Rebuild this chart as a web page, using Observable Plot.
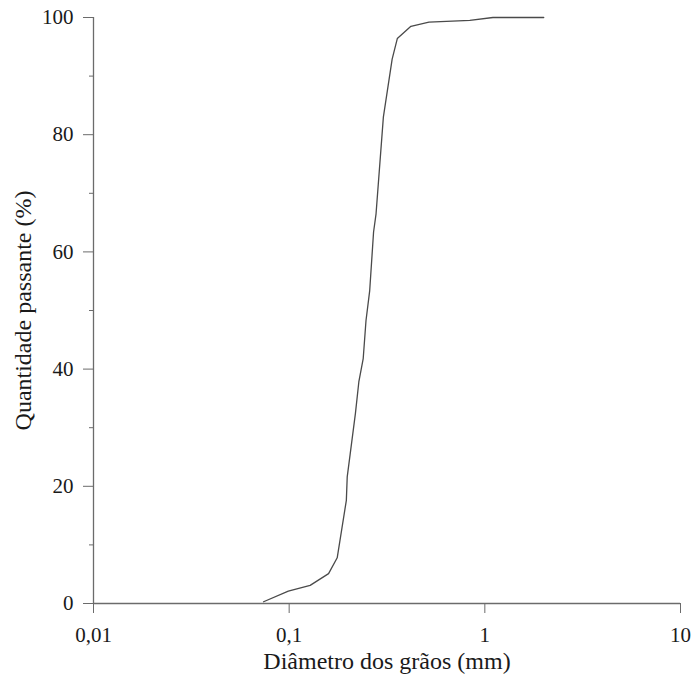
<!DOCTYPE html>
<html>
<head>
<meta charset="utf-8">
<script src="https://cdn.jsdelivr.net/npm/d3@7"></script>
<script src="https://cdn.jsdelivr.net/npm/@observablehq/plot@0.6"></script>
<style>
  html, body { margin: 0; padding: 0; background: #fff; }
  svg { display: block; }
</style>
</head>
<body>
<div id="chart"></div>
<script>
const diameter = [0.074, 0.099, 0.128, 0.159, 0.176, 0.196, 0.198, 0.205, 0.218, 0.227, 0.239, 0.247, 0.258, 0.270, 0.278, 0.303, 0.336, 0.357, 0.419, 0.518, 0.838, 1.10, 2.0];
const passing  = [0.3,   2.1,   3.1,   5.1,   7.8,   17.6,  21.6,  25.5,  32.4,  37.8,  41.8,  48.3,  53.4,  63.4,  66.5,  83.0,  92.9,  96.4,  98.5,  99.2,  99.5,  100,  100];
const xTicks = [0.01, 0.1, 1, 10];
const yMajor = [0, 20, 40, 60, 80, 100];
const yMinor = [10, 30, 50, 70, 90];

const data = diameter.map((d, i) => ({d, p: passing[i]}));
const axisColor = "#6b6b6b";
const serif = "'Liberation Serif', 'Times New Roman', Times, serif";

const chart = Plot.plot({
  width: 692,
  height: 675,
  marginLeft: 93,
  marginRight: 12,
  marginTop: 17,
  marginBottom: 72,
  style: `background: #fff; font-family: ${serif}; font-size: 21px;`,
  x: {type: "log", domain: [0.01, 10]},
  y: {domain: [0, 100]},
  marks: [
    Plot.axisX({ticks: xTicks, tickSize: 10, tickPadding: 14, stroke: axisColor, fontSize: 21,
      tickFormat: d => String(d).replace(".", ","),
      label: "Diâmetro dos grãos (mm)", labelAnchor: "center", labelArrow: "none", labelOffset: 65}),
    Plot.axisY({ticks: yMajor, tickSize: 10, tickPadding: 10, stroke: axisColor, fontSize: 21,
      label: "Quantidade passante (%)", labelAnchor: "center", labelArrow: "none", labelOffset: 80}),
    Plot.axisY({ticks: yMinor, tickSize: 4, stroke: axisColor, tickFormat: () => "", label: null}),
    Plot.ruleY([0], {x1: 0.01, x2: 10, stroke: axisColor, strokeWidth: 1.3}),
    Plot.ruleX([0.01], {y1: 0, y2: 100, stroke: axisColor, strokeWidth: 1.3}),
    Plot.line(data, {x: "d", y: "p", stroke: "#4a4a4a", strokeWidth: 1.3})
  ]
});
chart.querySelectorAll("text").forEach(t => {
  t.style.fontFamily = serif;
  t.style.fontSize = "21px";
  t.style.fill = "#1a1a1a";
});
chart.querySelectorAll("g").forEach(g => {
  const lab = g.getAttribute("aria-label") || "";
  if (lab.endsWith("axis label")) g.querySelectorAll("text").forEach(t => t.style.fontSize = "24px");
});
document.getElementById("chart").appendChild(chart);
</script>
</body>
</html>
